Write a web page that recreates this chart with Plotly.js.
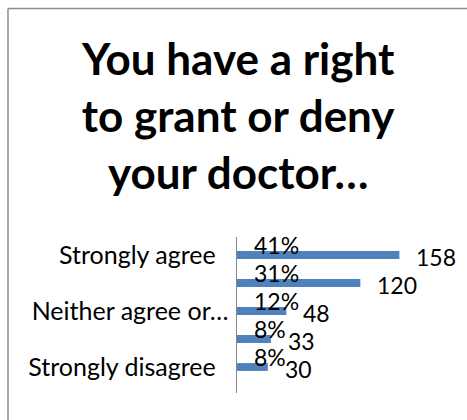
<!DOCTYPE html>
<html>
<head>
<meta charset="utf-8">
<script src="https://cdn.plot.ly/plotly-3.0.1.min.js"></script>
<style>
html,body{margin:0;padding:0;background:#fff;}
#chart{width:467px;height:420px;}
</style>
</head>
<body>
<div id="chart"></div>
<script>
const categories = ["Strongly agree", "Agree", "Neither agree or disagree", "Disagree", "Strongly disagree"];
const counts = [158, 120, 48, 33, 30];
const percents = ["41%", "31%", "12%", "8%", "8%"];
const tickCategories = ["Strongly agree", "Neither agree or disagree", "Strongly disagree"];
const tickLabels = ["Strongly agree&nbsp;&nbsp;", "Neither agree or…", "Strongly disagree&nbsp;&nbsp;"];
const titleText = "You have a right<br>to grant or deny<br>your doctor…";

const FONT = "Lato, 'Open Sans', sans-serif";
const BAR = "#4F81BD";

const annotations = [];
categories.forEach((c, i) => {
  annotations.push({
    x: 0, y: c, xref: "x", yref: "y",
    text: percents[i], showarrow: false,
    xanchor: "left", yanchor: "middle",
    xshift: 15, yshift: 10,
    font: {family: FONT, size: 23, color: "#000"}
  });
  annotations.push({
    x: counts[i], y: c, xref: "x", yref: "y",
    text: String(counts[i]), showarrow: false,
    xanchor: "left", yanchor: "middle",
    xshift: 15, yshift: -2,
    font: {family: FONT, size: 23, color: "#000"}
  });
});

const data = [{
  type: "bar",
  orientation: "h",
  x: counts,
  y: categories,
  marker: {color: BAR},
  hoverinfo: "none"
}];

const layout = {
  width: 467, height: 420,
  margin: {l: 237, r: 7, t: 237, b: 27},
  paper_bgcolor: "#fff", plot_bgcolor: "#fff",
  showlegend: false,
  bargap: 0.72,
  title: {
    text: titleText,
    font: {family: FONT, size: 44, color: "#000", weight: "bold"},
    xref: "container", x: 0.51, xanchor: "center",
    yref: "container", y: 0.822, yanchor: "top"
  },
  xaxis: {
    range: [0, 217],
    visible: false,
    showgrid: false, zeroline: false
  },
  yaxis: {
    type: "category",
    autorange: "reversed",
    tickmode: "array",
    tickvals: tickCategories,
    ticktext: tickLabels,
    ticks: "",
    ticklabelstandoff: 2,
    showgrid: false, zeroline: false,
    showline: true, linecolor: "#868686", linewidth: 1.5,
    tickfont: {family: FONT, size: 25, color: "#000"}
  },
  annotations: annotations,
  shapes: [
    {type: "line", xref: "paper", yref: "paper",
     x0: (8 - 237) / 223, x1: (480 - 237) / 223, y0: (393 - 8.5) / 156, y1: (393 - 8.5) / 156,
     line: {color: "#8c8c8c", width: 1.5}},
    {type: "line", xref: "paper", yref: "paper",
     x0: (8 - 237) / 223, x1: (8 - 237) / 223, y0: (393 - 8.5) / 156, y1: (393 - 430) / 156,
     line: {color: "#8c8c8c", width: 1.5}}
  ]
};

Plotly.newPlot("chart", data, layout, {displayModeBar: false, staticPlot: true});
</script>
</body>
</html>
